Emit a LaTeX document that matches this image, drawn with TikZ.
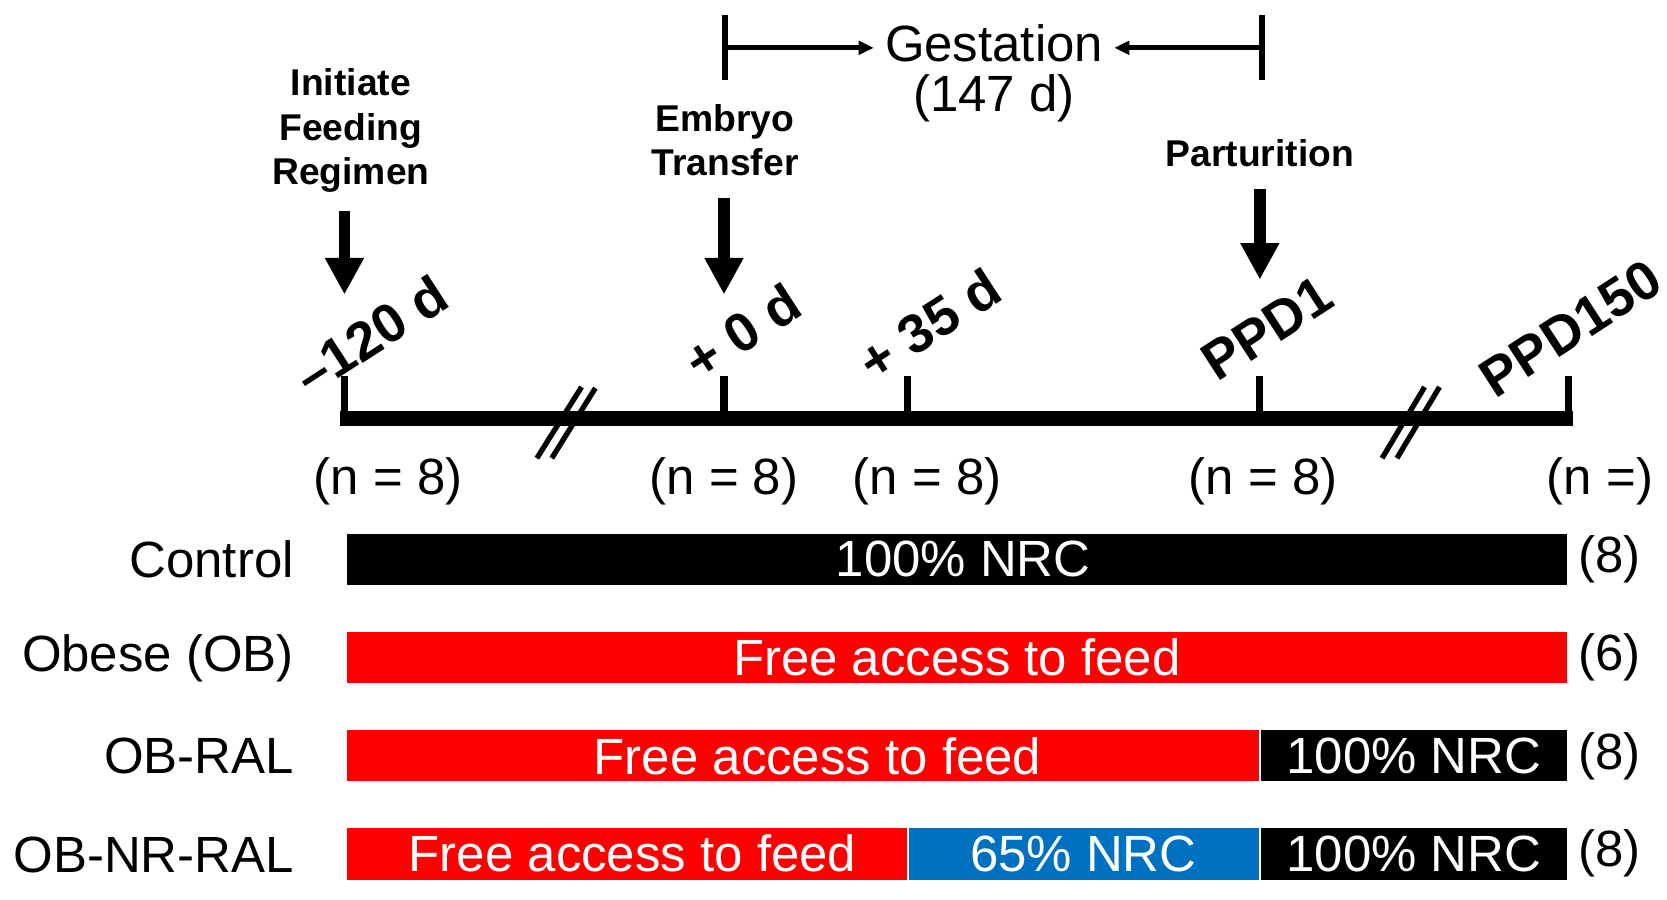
\documentclass[tikz,border=0pt]{standalone}
\usepackage{fontspec}
\setmainfont{Liberation Sans}
\usepackage{xcolor}
\usepackage{tikz}
\usetikzlibrary{arrows.meta,positioning}
\definecolor{nrcblue}{RGB}{0,112,192}
\definecolor{feedred}{RGB}{255,0,0}

\begin{document}
\begin{tikzpicture}[
  x=0.010631cm,
  y=-0.010631cm,
  font=\fontsize{14.5}{17}\selectfont,
  event/.style={
    font=\fontsize{10.6}{12.7}\selectfont\bfseries,
    align=center,
    inner sep=0pt
  },
  daylabel/.style={
    font=\fontsize{15.5}{18}\selectfont\bfseries,
    rotate=33,
    inner sep=0pt
  },
  bartext/.style={
    text=white,
    inner sep=0pt
  },
  grouplabel/.style={
    anchor=east,
    inner sep=0pt
  },
  bigarr/.style={
    line width=3.3pt,
    -{Triangle[length=10.4pt,width=10.4pt]}
  },
  garr/.style={
    line width=1.4pt,
    -{Triangle[length=4.3pt,width=3.8pt]}
  },
  tickline/.style={
    line width=2pt
  }
]
\useasboundingbox (0,0) rectangle (1568,846);

% time points on the axis
\coordinate (t1) at (324,394);
\coordinate (t2) at (681,394);
\coordinate (t3) at (854,394);
\coordinate (t4) at (1185,394);
\coordinate (t5) at (1475,394);

\draw[line width=4.2pt] (320,394) -- (1480,394);
\foreach \t in {t1,t2,t3,t4,t5}
  \draw[tickline] (\t) -- ++(0,-40);

% axis breaks
\draw[line width=1.5pt] (505,431) -- (547,364);
\draw[line width=1.5pt] (519,431) -- (560,365);
\draw[line width=1.5pt] (1300,431) -- (1340,364);
\draw[line width=1.5pt] (1314,431) -- (1354,364);

% rotated day labels
\node[daylabel] (dA) at (349,315) {–120 d};
\node[daylabel] (dB) at (698,312) {+ 0 d};
\node[daylabel] (dC) at (874,305) {+ 35 d};
\node[daylabel] (dD) at (1192,309) {PPD1};
\node[daylabel] (dE) at (1477,309) {PPD150};

% events
\node[event] (init) at (330,123)
{Initiate\\Feeding\\Regimen};
\node[event] (embryo) at (682,132)
{Embryo\\Transfer};
\node[event] (partur) at (1185,144)
{Parturition};

\coordinate (a1) at (324,277);
\coordinate (a2) at (681,277);
\coordinate (a3) at (1185,263);
\draw[bigarr] ([yshift=-5pt]init.south -| a1) -- (a1);
\draw[bigarr] ([yshift=-6pt]embryo.south -| a2) -- (a2);
\draw[bigarr] ([yshift=-6pt]partur.south -| a3) -- (a3);

% gestation span
\node[
  align=center,
  inner sep=3pt,
  font=\fontsize{14.5}{14}\selectfont
] (gest) at (935,69)
{Gestation\\(147 d)};
\coordinate (gl) at (682,45);
\coordinate (gr) at (1187,45);
\draw[line width=1.9pt] (682,14) -- (682,75);
\draw[line width=1.9pt] (1187,14) -- (1187,75);
\draw[garr] (gl) -- (gl -| gest.west);
\draw[garr] (gr) -- (gr -| gest.east);

% sample sizes
\node (n1) at (365,453) {(n = 8)};
\node (n2) at (681,453) {(n = 8)};
\node (n3) at (872,453) {(n = 8)};
\node (n4) at (1188,453) {(n = 8)};
\node (n5) at (1505,453) {(n =)};

% treatment groups
\node[grouplabel] (gC) at (277,526) {Control};
\node[grouplabel] (gO) at (277,619) {Obese (OB)};
\node[grouplabel] (gR) at (277,711) {OB-RAL};
\node[grouplabel] (gN) at (277,804) {OB-NR-RAL};

\fill[black] (326,502) rectangle (1474,550);
\node[bartext] (cC) at (906,526) {100\% NRC};

\fill[feedred] (326,594) rectangle (1474,642);
\node[bartext] (cO) at (900,618) {Free access to feed};

\fill[feedred] (326,687) rectangle (1184,735);
\fill[black] (1186,687) rectangle (1474,735);
\node[bartext] (cR1) at (769,711) {Free access to feed};
\node[bartext] (cR2) at (1330,711) {100\% NRC};

\fill[feedred] (326,779) rectangle (853,828);
\fill[nrcblue] (855,779) rectangle (1184,828);
\fill[black] (1186,779) rectangle (1474,828);
\node[bartext] (cN1) at (595,803) {Free access to feed};
\node[bartext] (cN2) at (1019,803) {65\% NRC};
\node[bartext] (cN3) at (1330,803) {100\% NRC};

\node (kC) at (1514,526) {(8)};
\node (kO) at (1514,618) {(6)};
\node (kR) at (1514,711) {(8)};
\node (kN) at (1514,803) {(8)};
\end{tikzpicture}
\end{document}
